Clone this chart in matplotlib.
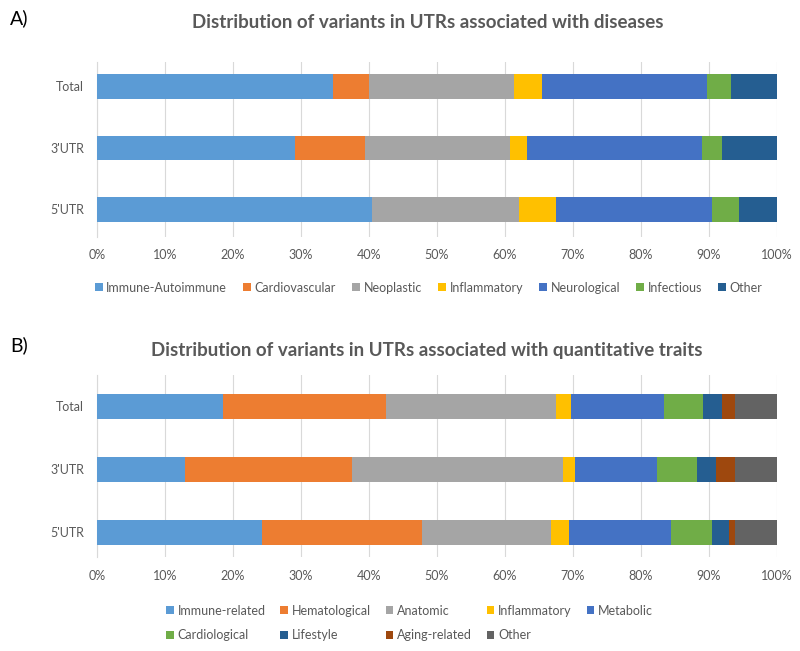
import numpy as np
import matplotlib.pyplot as plt
from matplotlib.ticker import FuncFormatter

plt.rcParams['font.family'] = ['Lato', 'DejaVu Sans']

# rows, bottom to top
rows = ["5'UTR", "3'UTR", "Total"]

# --- A) diseases (percent of variants) ---
dis_names = ['Immune-Autoimmune', 'Cardiovascular', 'Neoplastic', 'Inflammatory',
             'Neurological', 'Infectious', 'Other']
immune_auto = [40.4, 29.2, 34.8]
cardiovascular = [0.0, 10.2, 5.2]
neoplastic = [21.7, 21.3, 21.3]
inflammatory_a = [5.4, 2.5, 4.1]
neurological = [23.0, 25.8, 24.3]
infectious = [4.0, 2.9, 3.6]
other_a = [5.5, 8.1, 6.7]
dis_values = [immune_auto, cardiovascular, neoplastic, inflammatory_a,
              neurological, infectious, other_a]

# --- B) quantitative traits ---
qt_names = ['Immune-related', 'Hematological', 'Anatomic', 'Inflammatory', 'Metabolic',
            'Cardiological', 'Lifestyle', 'Aging-related', 'Other']
immune_rel = [24.3, 12.9, 18.5]
hematological = [23.5, 24.7, 24.1]
anatomic = [19.0, 31.0, 25.0]
inflammatory_b = [2.7, 1.7, 2.2]
metabolic = [15.0, 12.1, 13.6]
cardiological = [6.0, 5.8, 5.8]
lifestyle = [2.4, 2.9, 2.7]
aging = [1.0, 2.8, 1.9]
other_b = [6.1, 6.1, 6.2]
qt_values = [immune_rel, hematological, anatomic, inflammatory_b, metabolic,
             cardiological, lifestyle, aging, other_b]

colors = ['#5B9BD5', '#ED7D31', '#A5A5A5', '#FFC000', '#4472C4',
          '#70AD47', '#255E91', '#9E480E', '#636363']
text_gray = '#595959'


def stacked(ax, names, values, cols):
    y = np.arange(len(rows))
    left = np.zeros(len(rows))
    handles = []
    for name, vals, c in zip(names, values, cols):
        b = ax.barh(y, vals, left=left, height=0.4, color=c, label=name, zorder=3)
        handles.append(b)
        left += np.array(vals)
    ax.set_xlim(0, 100)
    ax.set_xticks(np.arange(0, 101, 10))
    ax.xaxis.set_major_formatter(FuncFormatter(lambda v, p: f'{v:.0f}%'))
    ax.set_yticks(y)
    ax.set_yticklabels(rows)
    ax.grid(axis='x', color='#D9D9D9', linewidth=0.8, zorder=0)
    for s in ['top', 'right', 'bottom']:
        ax.spines[s].set_visible(False)
    ax.spines['left'].set_color('#D9D9D9')
    ax.tick_params(axis='both', length=0, labelsize=9, labelcolor=text_gray, pad=9)
    return handles


fig = plt.figure(figsize=(8, 6.51), dpi=100)

axA = fig.add_axes([0.121, 0.636, 0.85, 0.269])
hA = stacked(axA, dis_names, dis_values, colors[:6] + [colors[6]])
axA.set_ylim(-0.45, 2.4)

axB = fig.add_axes([0.121, 0.144, 0.85, 0.28])
hB = stacked(axB, qt_names, qt_values, colors)
axB.set_ylim(-0.4, 2.5)

fig.text(0.013, 0.972, 'A)', fontsize=14, va='center')
fig.text(0.013, 0.47, 'B)', fontsize=14, va='center')
fig.text(0.535, 0.966, 'Distribution of variants in UTRs associated with diseases',
         ha='center', va='center', fontsize=13.5, fontweight='bold', color=text_gray)
fig.text(0.534, 0.462, 'Distribution of variants in UTRs associated with quantitative traits',
         ha='center', va='center', fontsize=13.5, fontweight='bold', color=text_gray)

legA = fig.legend(hA, dis_names, loc='center', bbox_to_anchor=(0.536, 0.558), ncol=7,
                  frameon=False, fontsize=9, handlelength=0.6, handleheight=0.6,
                  handletextpad=0.3, columnspacing=1.3, labelcolor=text_gray)

order = [0, 5, 1, 6, 2, 7, 3, 8, 4]
legB = fig.legend([hB[i] for i in order], [qt_names[i] for i in order], loc='center',
                  bbox_to_anchor=(0.512, 0.043), ncol=5, frameon=False, fontsize=9,
                  handlelength=0.6, handleheight=0.6, handletextpad=0.3,
                  columnspacing=1.2, labelspacing=1.0, labelcolor=text_gray)

fig.savefig('out.png', dpi=100)
